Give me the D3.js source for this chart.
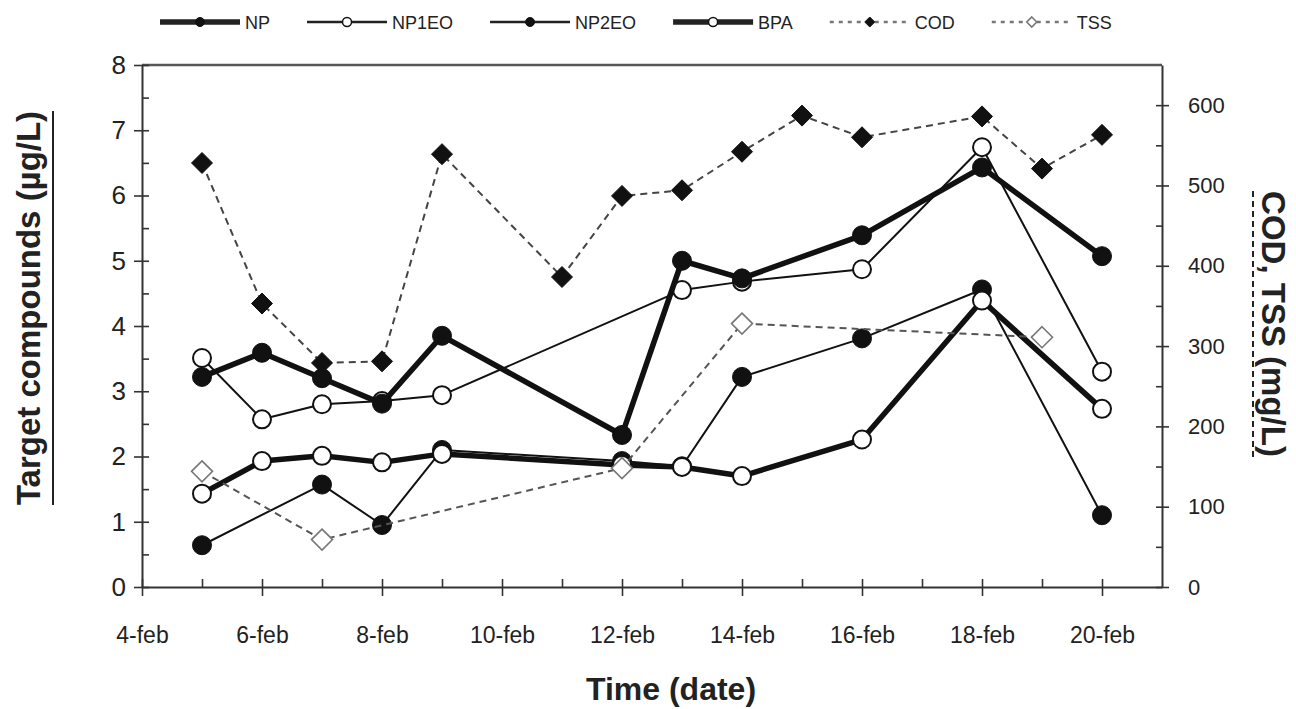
<!DOCTYPE html>
<html><head><meta charset="utf-8">
<script src="https://cdn.jsdelivr.net/npm/d3@7"></script>
<style>
body{margin:0;background:#fff}
svg{display:block}
text{font-family:"Liberation Sans",Arial,Helvetica,sans-serif;fill:#222}
</style>
</head><body>
<svg id="chart" width="1296" height="709"></svg>
<script>
// ---------- data (day of February) ----------
const npDays = [5,6,7,8,9,12,13,14,16,18,20];
const npValues = [3.22,3.59,3.20,2.81,3.85,2.33,5.00,4.73,5.39,6.43,5.07];
const np1eoDays = [5,6,7,8,9,13,14,16,18,20];
const np1eoValues = [3.51,2.57,2.80,2.85,2.94,4.55,4.68,4.87,6.74,3.30];
const np2eoDays = [5,7,8,9,12,13,14,16,18,20];
const np2eoValues = [0.64,1.57,0.95,2.10,1.93,1.85,3.22,3.81,4.56,1.10];
const bpaDays = [5,6,7,8,9,12,13,14,16,18,20];
const bpaValues = [1.43,1.93,2.01,1.91,2.04,1.87,1.84,1.70,2.26,4.39,2.73];
const codDays = [5,6,7,8,9,11,12,13,14,15,16,18,19,20];
const codValues = [528,353,279,281,539,386,487,494,542,587,560,586,521,563];
const tssDays = [5,7,12,14,19];
const tssValues = [144,59,148,328,311];

const xTickDays = [4,6,8,10,12,14,16,18,20];
const xTickLabels = ["4-feb","6-feb","8-feb","10-feb","12-feb","14-feb","16-feb","18-feb","20-feb"];
const xMinorDays = [5,7,9,11,13,15,17,19];
const leftTicks = [0,1,2,3,4,5,6,7,8];
const leftMinor = [0.5,1.5,2.5,3.5,4.5,5.5,6.5,7.5];
const rightTicks = [0,100,200,300,400,500,600];
const rightMinor = [50,150,250,350,450,550];
const leftTitle = "Target compounds (µg/L)";
const rightTitle = "COD, TSS (mg/L)";
const xTitle = "Time (date)";
const legendNames = ["NP","NP1EO","NP2EO","BPA","COD","TSS"];

// ---------- layout ----------
const L = 142, R = 1162, T = 65, B = 587;
const svg = d3.select("#chart");
const x = d3.scaleLinear().domain([4,21]).range([L,R]);
const yL = d3.scaleLinear().domain([0,8]).range([B,T]);
const yR = d3.scaleLinear().domain([0,650]).range([B,T]);

const axisColor = "#333";

// frame top
svg.append("line").attr("x1",L).attr("x2",R).attr("y1",T).attr("y2",T)
  .attr("stroke","#555").attr("stroke-width",2.5);

function styleAxis(g){
  g.select(".domain").attr("stroke",axisColor).attr("stroke-width",2);
  g.selectAll(".tick line").attr("stroke",axisColor).attr("stroke-width",1.6);
}

// left axis
const gL = svg.append("g").attr("transform",`translate(${L},0)`)
  .call(d3.axisLeft(yL).tickValues(leftTicks).tickSize(8).tickSizeOuter(0).tickPadding(8).tickFormat(d3.format("d")));
styleAxis(gL);
gL.selectAll(".tick line").attr("x1",7);
gL.selectAll(".tick text").attr("font-size",26).attr("fill","#222").attr("font-family",null);
svg.append("g").attr("transform",`translate(${L},0)`)
  .call(d3.axisRight(yL).tickValues(leftMinor).tickSize(7).tickFormat(""))
  .call(g=>{g.select(".domain").remove();g.selectAll(".tick line").attr("stroke",axisColor).attr("stroke-width",1.6);});

// right axis
const gR = svg.append("g").attr("transform",`translate(${R},0)`)
  .call(d3.axisRight(yR).tickValues(rightTicks).tickSize(7).tickSizeOuter(0).tickPadding(19).tickFormat(d3.format("d")));
styleAxis(gR);
gR.selectAll(".tick line").attr("x1",-6);
gR.selectAll(".tick text").attr("font-size",22).attr("fill","#222").attr("font-family",null);
svg.append("g").attr("transform",`translate(${R},0)`)
  .call(d3.axisLeft(yR).tickValues(rightMinor).tickSize(6).tickFormat(""))
  .call(g=>{g.select(".domain").remove();g.selectAll(".tick line").attr("stroke",axisColor).attr("stroke-width",1.6);});

// bottom axis
const gB = svg.append("g").attr("transform",`translate(0,${B})`)
  .call(d3.axisBottom(x).tickValues(xTickDays).tickSize(9).tickSizeOuter(0).tickPadding(31).tickFormat((d,i)=>xTickLabels[i]));
styleAxis(gB);
gB.selectAll(".tick line").attr("y1",-8);
gB.selectAll(".tick text").attr("font-size",23).attr("fill","#222").attr("font-family",null);
svg.append("g").attr("transform",`translate(0,${B})`)
  .call(d3.axisTop(x).tickValues(xMinorDays).tickSize(8).tickFormat(""))
  .call(g=>{g.select(".domain").remove();g.selectAll(".tick line").attr("stroke",axisColor).attr("stroke-width",1.6);});

// ---------- series ----------
const series = [
  {name:"NP1EO", days:np1eoDays, vals:np1eoValues, y:yL, w:2, dash:null, color:"#111", marker:"open"},
  {name:"NP2EO", days:np2eoDays, vals:np2eoValues, y:yL, w:2, dash:null, color:"#111", marker:"filled"},
  {name:"NP", days:npDays, vals:npValues, y:yL, w:5.5, dash:null, color:"#111", marker:"filled"},
  {name:"BPA", days:bpaDays, vals:bpaValues, y:yL, w:5.5, dash:null, color:"#111", marker:"open"},
  {name:"COD", days:codDays, vals:codValues, y:yR, w:2, dash:"7,5", color:"#444", marker:"diamondFilled"},
  {name:"TSS", days:tssDays, vals:tssValues, y:yR, w:2, dash:"7,5", color:"#555", marker:"diamondOpen"}
];

function drawMarker(g, type, cx, cy, small){
  const r = small ? 4.5 : 9;
  if(type==="filled"){
    g.append("circle").attr("cx",cx).attr("cy",cy).attr("r",r+(small?0:0.5)).attr("fill","#111").attr("stroke","#111").attr("stroke-width",1);
  } else if(type==="open"){
    g.append("circle").attr("cx",cx).attr("cy",cy).attr("r",r).attr("fill","#fff").attr("stroke","#111").attr("stroke-width",small?1.5:2);
  } else {
    const s = small ? 5 : 10.5;
    const pts = [[cx,cy-s],[cx+s,cy],[cx,cy+s],[cx-s,cy]].map(p=>p.join(",")).join(" ");
    if(type==="diamondFilled")
      g.append("polygon").attr("points",pts).attr("fill","#111").attr("stroke","#111").attr("stroke-width",1);
    else
      g.append("polygon").attr("points",pts).attr("fill","#fff").attr("stroke","#777").attr("stroke-width",1.6);
  }
}

series.forEach(s=>{
  const g = svg.append("g");
  const pts = s.days.map((d,i)=>[x(d), s.y(s.vals[i])]);
  g.append("path").attr("d",d3.line()(pts)).attr("fill","none")
    .attr("stroke",s.color).attr("stroke-width",s.w)
    .attr("stroke-linejoin","round")
    .attr("stroke-dasharray",s.dash);
  pts.forEach(p=>drawMarker(g,s.marker,p[0],p[1],false));
});

// ---------- legend ----------
const lg = svg.append("g");
let lx = 160;
const ly = 22;
legendNames.forEach(name=>{
  const s = series.find(q=>q.name===name);
  lg.append("line").attr("x1",lx).attr("x2",lx+80).attr("y1",ly).attr("y2",ly)
    .attr("stroke",s.dash?"#777":"#222").attr("stroke-width",s.w===2?2.5:5.5).attr("stroke-dasharray",s.dash?"4,5":null);
  drawMarker(lg,s.marker,lx+40,ly,true);
  const t = lg.append("text").attr("x",lx+85).attr("y",ly+6.5).attr("font-size",18).text(name);
  lx += 85 + t.node().getComputedTextLength() + 37;
});

// ---------- titles ----------
const lt = svg.append("text").attr("transform","translate(40,308) rotate(-90)")
  .attr("text-anchor","middle").attr("font-size",33).attr("font-weight","bold").text(leftTitle);
const ltLen = lt.node().getComputedTextLength();
svg.append("line").attr("x1",53).attr("x2",53).attr("y1",308-ltLen/2).attr("y2",308+ltLen/2)
  .attr("stroke","#222").attr("stroke-width",2);

const rt = svg.append("text").attr("transform","translate(1262,324) rotate(90)")
  .attr("text-anchor","middle").attr("font-size",33).attr("font-weight","bold").text(rightTitle);
const rtLen = rt.node().getComputedTextLength();
svg.append("line").attr("x1",1253).attr("x2",1253).attr("y1",324-rtLen/2).attr("y2",324+rtLen/2)
  .attr("stroke","#222").attr("stroke-width",2).attr("stroke-dasharray","6,4");

svg.append("text").attr("x",671).attr("y",700).attr("text-anchor","middle")
  .attr("font-size",32).attr("font-weight","bold").text(xTitle);
</script>
</body></html>
